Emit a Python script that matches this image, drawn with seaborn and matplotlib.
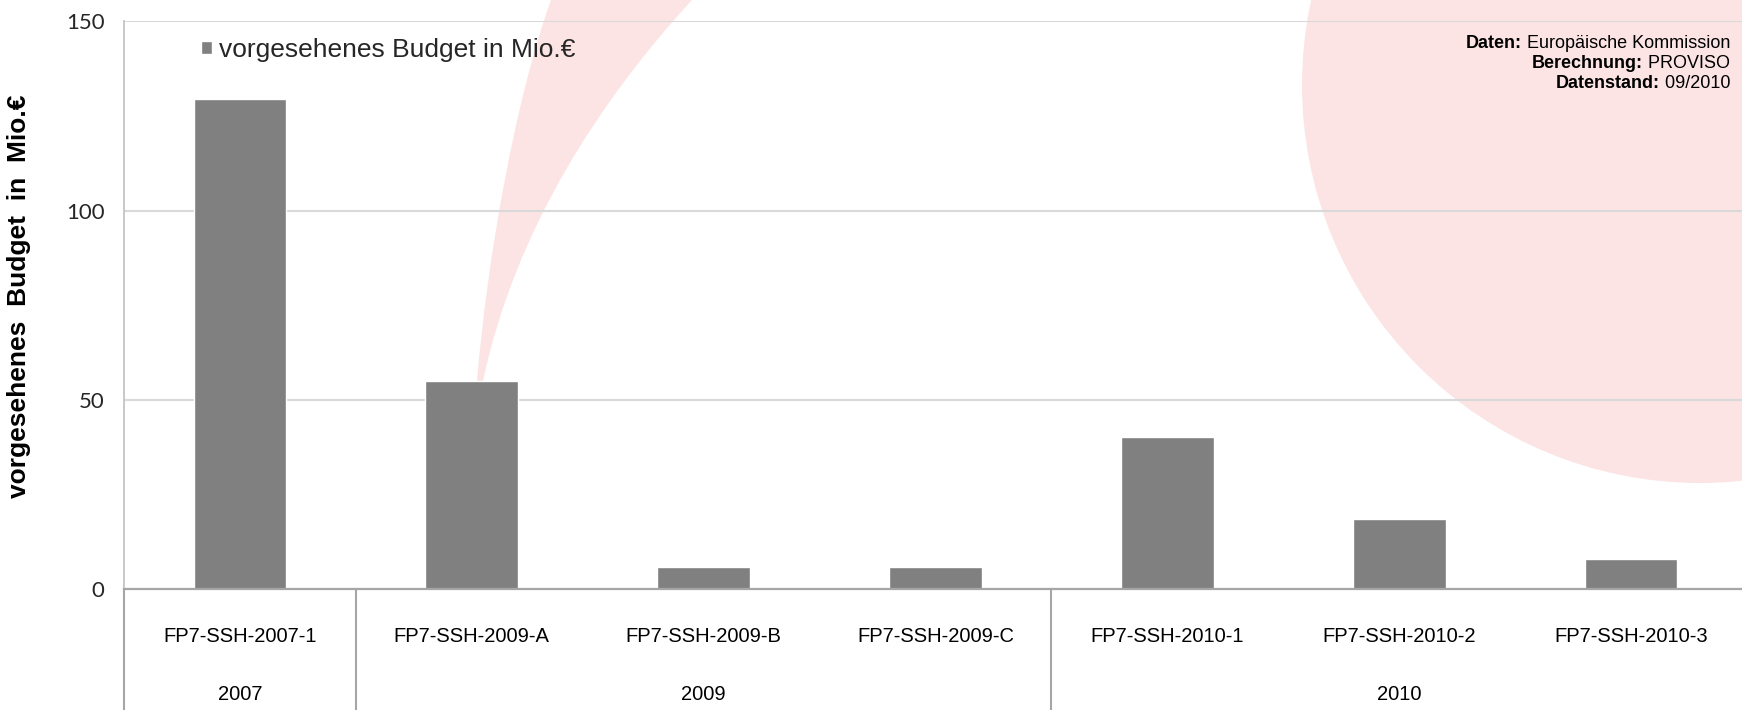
import matplotlib
matplotlib.use("Agg")
import matplotlib.pyplot as plt
from matplotlib.patches import Circle, PathPatch
from matplotlib.path import Path
from matplotlib.lines import Line2D
import seaborn as sns
import pandas as pd
import numpy as np

# ---------------- data ----------------
calls = ["FP7-SSH-2007-1", "FP7-SSH-2009-A", "FP7-SSH-2009-B", "FP7-SSH-2009-C",
         "FP7-SSH-2010-1", "FP7-SSH-2010-2", "FP7-SSH-2010-3"]
budget = [129.4, 55.0, 6.0, 6.0, 40.2, 18.6, 8.0]
call_years = ["2007", "2009", "2009", "2009", "2010", "2010", "2010"]
y_ticks = [0, 50, 100, 150]
series_label = "vorgesehenes Budget in Mio.€"
y_label = "vorgesehenes  Budget  in  Mio.€"
source_lines = [("Daten:", " Europäische Kommission"),
                ("Berechnung:", " PROVISO"),
                ("Datenstand:", " 09/2010")]

# ---------------- style ----------------
sns.set_style("white")
plt.rcParams["font.family"] = ["Liberation Sans", "DejaVu Sans"]

W, H = 1742, 710
fig = plt.figure(figsize=(W / 100, H / 100), dpi=100)
fig.patch.set_facecolor("white")

# decorative background (pixel coordinates)
bg = fig.add_axes([0, 0, 1, 1], zorder=-1)
bg.set_xlim(0, W)
bg.set_ylim(H, 0)
bg.axis("off")
pink = "#FCE4E4"
bg.add_patch(Circle((1700, 85), 398, facecolor=pink, edgecolor="none"))
verts = [(477, 381), (487, 260), (515, 100), (551, 0),
         (692, 0),
         (600, 100), (515, 230), (483, 381),
         (477, 381)]
codes = [Path.MOVETO, Path.CURVE4, Path.CURVE4, Path.CURVE4,
         Path.LINETO,
         Path.CURVE4, Path.CURVE4, Path.CURVE4,
         Path.CLOSEPOLY]
bg.add_patch(PathPatch(Path(verts, codes), facecolor=pink, edgecolor="none"))

# main axes
x0, x1 = 124, 1747
y_top, y_zero = 21.4, 589.3
ax = fig.add_axes([x0 / W, 1 - y_zero / H, (x1 - x0) / W, (y_zero - y_top) / H])
ax.patch.set_alpha(0)

df = pd.DataFrame({"call": calls, "budget": budget})
sns.barplot(data=df, x="call", y="budget", color="#808080", saturation=1,
            width=0.4, ax=ax, label=series_label)

ax.set_xlim(-0.5, len(calls) - 0.5)
ax.set_ylim(0, 150)
ax.set_yticks(y_ticks)
ax.set_yticklabels([str(t) for t in y_ticks], fontfamily="Lato", fontsize=16)
ax.yaxis.grid(True, color="#D9D9D9", lw=1.5)
ax.set_axisbelow(True)
ax.tick_params(axis="y", length=0, pad=14)
ax.tick_params(axis="x", length=0, labelbottom=False)
ax.set_xlabel("")
ax.set_ylabel("")
for s in ["top", "right"]:
    ax.spines[s].set_visible(False)
ax.spines["left"].set_color("#BFBFBF")
ax.spines["left"].set_linewidth(1.2)
ax.spines["bottom"].set_color("#A6A6A6")
ax.spines["bottom"].set_linewidth(1.6)

# category axis table below
depth = -(H - y_zero) / (y_zero - y_top)
row1_y = -(637 - y_zero) / (y_zero - y_top)
row2_y = -(694 - y_zero) / (y_zero - y_top)
trans = ax.get_xaxis_transform()
for i, c in enumerate(calls):
    ax.text(i, row1_y, c, transform=trans, ha="center", va="center",
            fontsize=14.5, color="black")

# group boundaries and year labels
boundaries = [-0.5]
for i in range(1, len(call_years)):
    if call_years[i] != call_years[i - 1]:
        boundaries.append(i - 0.5)
for b in boundaries:
    ax.add_line(Line2D([b, b], [0, depth], transform=trans, color="#A6A6A6",
                       lw=1.5, clip_on=False))
groups = []
for i, yname in enumerate(call_years):
    if not groups or groups[-1][0] != yname:
        groups.append([yname, [i]])
    else:
        groups[-1][1].append(i)
for yname, idx in groups:
    ax.text(np.mean(idx), row2_y, yname, transform=trans, ha="center",
            va="center", fontsize=14.5, color="black")

# legend
ax.legend(loc="center left", bbox_to_anchor=(201 / W, 1 - 50 / H),
          bbox_transform=fig.transFigure, frameon=False, fontsize=19,
          handlelength=0.42, handleheight=0.42, handletextpad=0.25,
          borderpad=0, borderaxespad=0)

# y label
fig.text(19 / W, 1 - 296 / H, y_label, rotation=90, ha="center", va="center",
         fontsize=19, fontweight="bold", color="black")

# source note, right aligned
ys = [43, 63, 84]
for (bold, reg), yy in zip(source_lines, ys):
    t = fig.text(1730 / W, 1 - yy / H, reg, ha="right", va="center",
                 fontsize=13, color="black")
    ax.annotate(bold, xy=(0, 0.5), xycoords=t, ha="right", va="center",
                fontsize=13, fontweight="bold", color="black",
                annotation_clip=False)

fig.savefig("out.png", dpi=100)
